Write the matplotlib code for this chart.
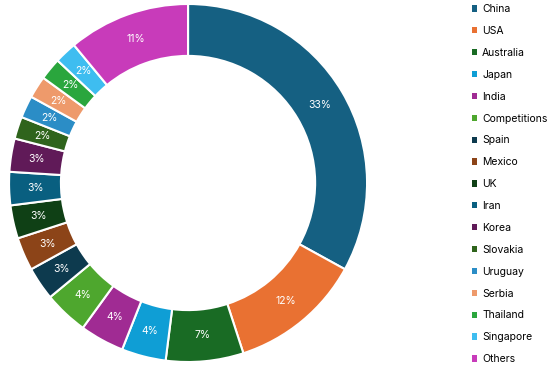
import matplotlib.pyplot as plt
from matplotlib.patches import Patch

plt.rcParams['font.family'] = ['Inter', 'DejaVu Sans']

countries = ['China', 'USA', 'Australia', 'Japan', 'India', 'Competitions',
             'Spain', 'Mexico', 'UK', 'Iran', 'Korea', 'Slovakia',
             'Uruguay', 'Serbia', 'Thailand', 'Singapore', 'Others']
shares = [33, 12, 7, 4, 4, 4, 3, 3, 3, 3, 3, 2, 2, 2, 2, 2, 11]
colors = ['#156082', '#E97132', '#196B24', '#0F9ED5', '#A02B93', '#4EA72E',
          '#0D3A4E', '#8C4418', '#0F4015', '#095F80', '#601A58', '#2F641C',
          '#2B8DC6', '#EE9A6B', '#2AA63D', '#3EBDF0', '#C83BBA']

fig = plt.figure(figsize=(5.5, 3.7), dpi=100)
ax = fig.add_axes([0.0164, 0.0216, 0.651, 0.9676])

wedges, texts, autotexts = ax.pie(
    shares, colors=colors, startangle=90, counterclock=False,
    autopct='%1.0f%%', pctdistance=0.855,
    wedgeprops=dict(width=0.29, edgecolor='white', linewidth=1.5),
    textprops=dict(color='white', fontsize=7.5))
ax.set_xlim(-1, 1)
ax.set_ylim(-1, 1)
ax.set_aspect('equal')

handles = [Patch(facecolor=c, edgecolor='none') for c in colors]
fig.legend(handles, countries, loc='upper left', bbox_to_anchor=(0.85, 1.0),
           frameon=False, fontsize=7.5, handlelength=0.55, handleheight=0.55,
           handletextpad=0.45, labelspacing=1.14, borderaxespad=0.0)

fig.savefig('out.png', dpi=100)
